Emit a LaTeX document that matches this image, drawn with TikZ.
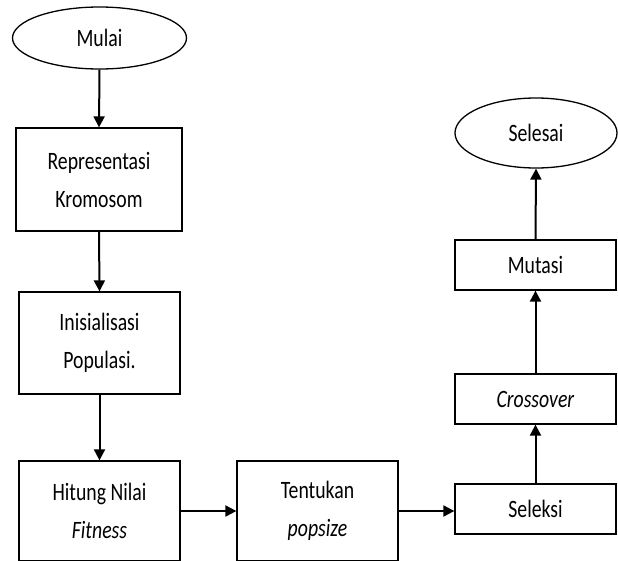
\documentclass[tikz,border=0pt]{standalone}
\usepackage{fontspec}
\setmainfont[FakeStretch=0.79]{Carlito}
\usetikzlibrary{shapes.geometric,arrows.meta}
\begin{document}
\begin{tikzpicture}[x=1pt,y=-1pt,
 box/.style={draw,line width=1.3pt,rectangle,inner sep=0pt,align=center,font=\fontsize{25}{38}\selectfont},
 oval/.style={draw,line width=1.3pt,ellipse,inner sep=0pt,font=\fontsize{25}{38}\selectfont},
 arr/.style={line width=2pt,-{Triangle[length=11pt,width=11pt]}}]
\useasboundingbox (0,0) rectangle (618,560);
\node[oval,minimum width=174pt,minimum height=62pt] (mulai) at (99.5,38) {Mulai};
\node[box,minimum width=166pt,minimum height=103pt] (rep) at (99,179.5) {Representasi\\Kromosom};
\node[box,minimum width=161pt,minimum height=102pt] (ini) at (99.5,343) {Inisialisasi\\Populasi.};
\node[box,minimum width=161pt,minimum height=100pt] (hit) at (99.5,511) {Hitung Nilai\\\textit{Fitness}};
\node[box,minimum width=161pt,minimum height=100pt] (tent) at (317.5,511) {Tentukan\\\textit{popsize}};
\node[box,minimum width=161pt,minimum height=50pt] (sel) at (535.5,509) {Seleksi};
\node[box,minimum width=161pt,minimum height=50pt] (cross) at (535.5,399) {\textit{Crossover}};
\node[box,minimum width=161pt,minimum height=50pt] (mut) at (535.5,265) {Mutasi};
\node[oval,minimum width=162pt,minimum height=70pt] (selesai) at (536,133) {Selesai};
\draw[arr] (mulai.south) -- (rep.north);
\draw[arr] (rep.south) -- (ini.north);
\draw[arr] (ini.south) -- (hit.north);
\draw[arr] (hit.east) -- (tent.west);
\draw[arr] (tent.east) -- (tent.east -| sel.west);
\draw[arr] (sel.north) -- (cross.south);
\draw[arr] (cross.north) -- (mut.south);
\draw[arr] (mut.north) -- (selesai.south);
\end{tikzpicture}
\end{document}
